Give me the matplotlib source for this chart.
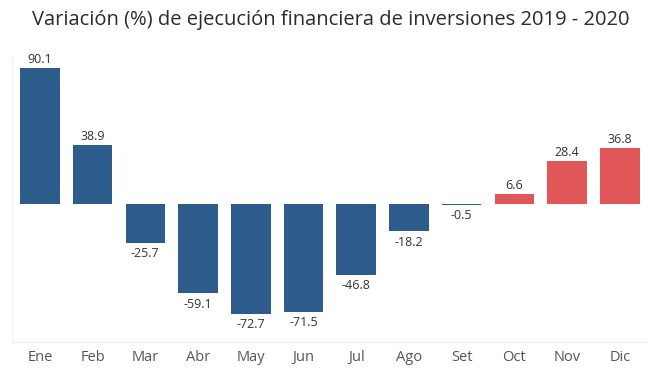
import numpy as np
import matplotlib.pyplot as plt

meses = ['Ene', 'Feb', 'Mar', 'Abr', 'May', 'Jun', 'Jul', 'Ago', 'Set', 'Oct', 'Nov', 'Dic']
variacion = [90.1, 38.9, -25.7, -59.1, -72.7, -71.5, -46.8, -18.2, -0.5, 6.6, 28.4, 36.8]

azul = '#2d5b8c'
rojo = '#e05659'

plt.rcParams['font.family'] = ['Open Sans', 'DejaVu Sans']

fig = plt.figure(figsize=(6.61, 3.68), dpi=100)
ax = fig.add_axes([0.018, 0.071, 0.962, 0.771])

x = np.arange(len(meses))
colores = [rojo if m in ('Oct', 'Nov', 'Dic') else azul for m in meses]
ax.bar(x, variacion, width=0.75, color=colores)

for xi, v in zip(x, variacion):
	if v >= 0:
		ax.text(xi, v + 1.5, f'{v:.1f}', ha='center', va='bottom', fontsize=9, color='#333333')
	else:
		ax.text(xi, v - 3, f'{v:.1f}', ha='center', va='top', fontsize=9, color='#333333')

ax.set_xlim(-0.53, 11.53)
ax.set_ylim(-91.4, 96.7)
ax.set_xticks(x)
ax.set_xticklabels(meses, fontsize=10.5, color='#555555')
ax.set_yticks([])
ax.tick_params(axis='x', length=0, pad=6)

for s in ['top', 'right']:
	ax.spines[s].set_visible(False)
ax.spines['left'].set_color('#eeeeee')
ax.spines['bottom'].set_color('#eeeeee')

fig.text(0.5, 0.945, 'Variación (%) de ejecución financiera de inversiones 2019 - 2020',
	ha='center', va='center', fontsize=14.5, color='#2b2b2b')

fig.savefig('out.png', dpi=100)
